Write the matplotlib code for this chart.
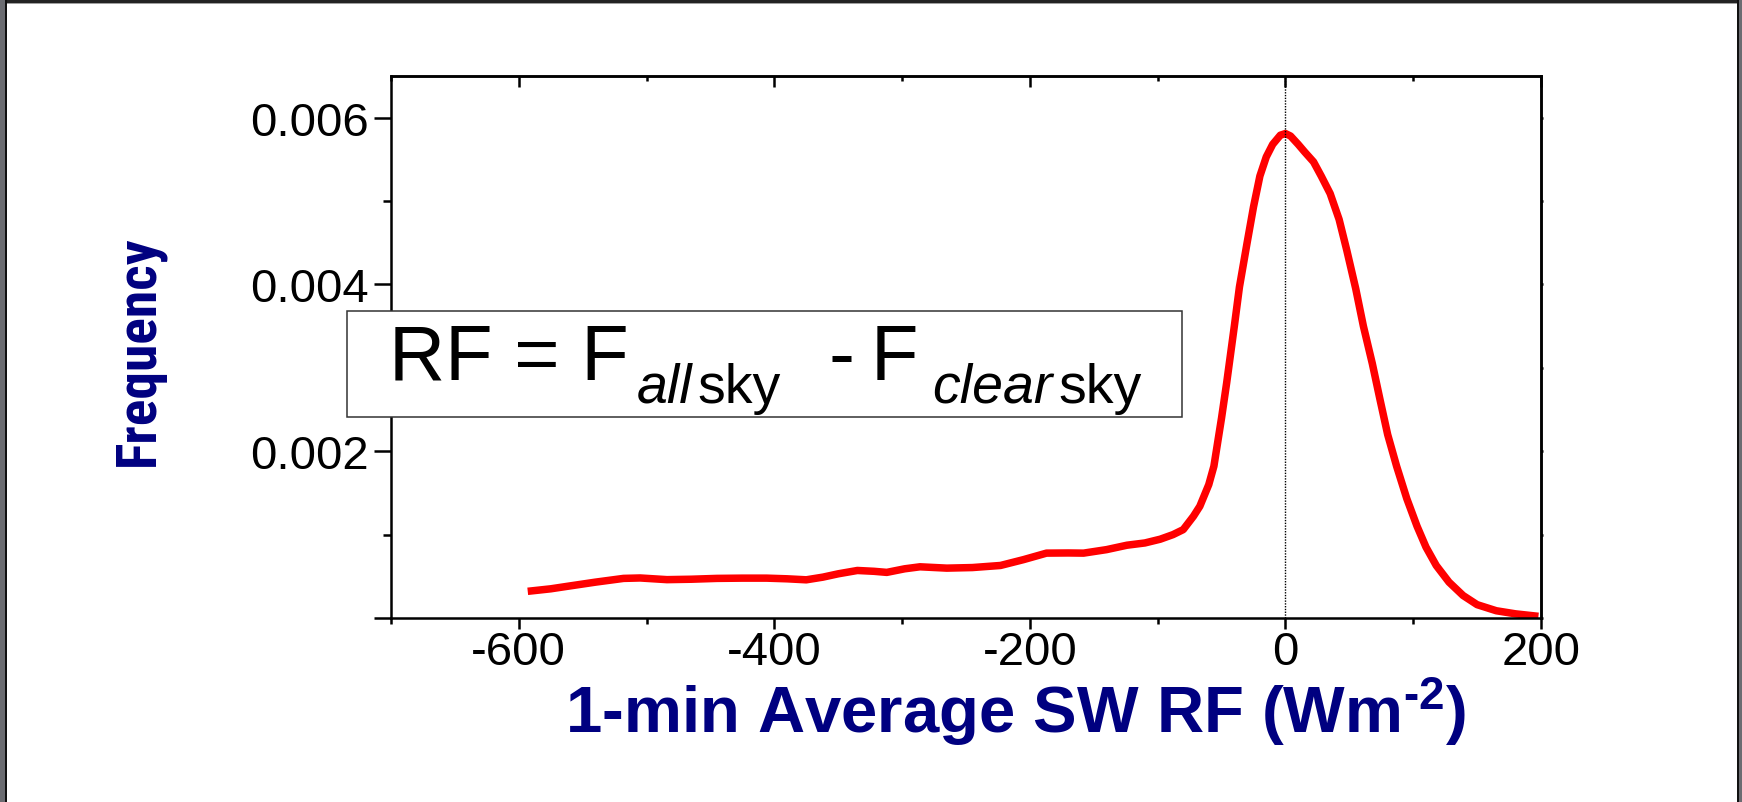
import numpy as np
import matplotlib
matplotlib.use("Agg")
import matplotlib.pyplot as plt
from matplotlib import font_manager
from matplotlib.patches import Rectangle
from matplotlib.transforms import IdentityTransform
from matplotlib.ticker import MultipleLocator

plt.rcParams['font.family'] = ['Liberation Sans', 'DejaVu Sans']
plt.rcParams['mathtext.fontset'] = 'custom'
plt.rcParams['mathtext.rm'] = 'Liberation Sans'
plt.rcParams['mathtext.it'] = 'Liberation Sans:italic'
plt.rcParams['mathtext.bf'] = 'Liberation Sans:bold'

# curve (SW RF in W m-2, frequency)
rf_x = [-593, -575, -562, -540, -518, -505, -484, -465, -445, -425, -406, -390,
        -375, -362, -350, -335, -322, -312, -298, -286, -265, -245, -223, -205,
        -187, -170, -158, -140, -124, -110, -98, -88, -80, -72, -67, -60, -56,
        -50, -46, -40, -36, -30, -25, -20, -15, -10, -4, 0, 4, 10, 15, 22, 28,
        35, 42, 48, 55, 61, 68, 74, 80, 87, 95, 103, 110, 118, 128, 139, 150,
        165, 180, 198]
freq = [0.00032, 0.00035, 0.00038, 0.00043, 0.000475, 0.00048, 0.00046, 0.000465,
        0.000475, 0.000478, 0.000478, 0.00047, 0.000458, 0.00049, 0.00053, 0.00057,
        0.00056, 0.000547, 0.00059, 0.000614, 0.000598, 0.000605, 0.00063, 0.0007,
        0.000778, 0.00078, 0.000778, 0.00082, 0.000873, 0.0009, 0.000945, 0.001,
        0.00106, 0.00122, 0.00134, 0.0016, 0.00182, 0.0024, 0.00282, 0.0035,
        0.00397, 0.0045, 0.00493, 0.0053, 0.00553, 0.00568, 0.00579, 0.00581,
        0.00578, 0.00568, 0.00559, 0.00547, 0.0053, 0.00509, 0.00478, 0.00441,
        0.00395, 0.0035, 0.00305, 0.00262, 0.0022, 0.00182, 0.00143, 0.0011,
        0.00085, 0.00063, 0.00043, 0.00027, 0.00016, 0.000087, 0.00005, 0.00002]

x_major = [-600, -400, -200, 0, 200]
x_labels = ['-600', '-400', '-200', '0', '200']
y_major = [0.0, 0.002, 0.004, 0.006]
y_labels = ['', '0.002', '0.004', '0.006']

W, H = 1742, 803
navy = '#000080'

names = {f.name for f in font_manager.fontManager.ttflist}
ylab_font = 'Liberation Sans'
for cand in ['Liberation Sans Narrow', 'Roboto Condensed', 'DejaVu Sans Condensed']:
    if cand in names:
        ylab_font = cand
        break

fig = plt.figure(figsize=(W / 100, H / 100), dpi=100)
fig.patch.set_facecolor('white')
ax = fig.add_axes([391 / W, 1 - 619 / H, 1150 / W, 542 / H])

ax.plot(rf_x, freq, color='#ff0000', lw=5.4, solid_capstyle='butt',
        solid_joinstyle='round', zorder=2)
ax.axvline(0, color='black', lw=1.0, linestyle=(0, (1, 1)), zorder=3)

ax.set_xlim(-700, 200)
ax.set_ylim(0, 0.0065)
ax.set_xticks(x_major)
ax.set_xticklabels(x_labels)
ax.set_yticks(y_major)
ax.set_yticklabels(y_labels)
ax.xaxis.set_minor_locator(MultipleLocator(100))
ax.yaxis.set_minor_locator(MultipleLocator(0.001))
ax.tick_params(which='both', direction='out', width=1.8, labelsize=34,
               top=False, right=False)
ax.tick_params(axis='y', which='major', length=12, pad=4)
ax.tick_params(axis='y', which='minor', length=6)
ax.tick_params(axis='x', which='major', length=8, pad=1)
ax.tick_params(axis='x', which='minor', length=4.3)
for sp in ax.spines.values():
    sp.set_linewidth(1.8)

# inward ticks on top, tiny outward ticks on the right
top = ax.secondary_xaxis('top')
top.set_xticks(x_major)
top.xaxis.set_minor_locator(MultipleLocator(100))
top.tick_params(which='major', direction='in', length=8, width=1.8, labeltop=False)
top.tick_params(which='minor', direction='in', length=3.6, width=1.8)
top.spines['top'].set_linewidth(1.8)
right = ax.secondary_yaxis('right')
right.set_yticks(y_major)
right.yaxis.set_minor_locator(MultipleLocator(0.001))
right.tick_params(which='both', direction='out', length=1.5, width=1.8, labelright=False)
right.spines['right'].set_linewidth(1.8)

ax.set_xlabel('1-min Average SW RF (Wm$^{\\mathbf{\u20102}}$)',
              fontsize=47, fontweight='bold', color=navy, va='baseline', ha='center')
ax.xaxis.set_label_coords((1015 - 391) / 1150, -(733 - 619) / 542)
ax.set_ylabel('Frequency', fontsize=40, fontweight='bold', color=navy,
              family=ylab_font, va='center', ha='center')
ax.yaxis.set_label_coords((139 - 391) / 1150, (619 - 351) / 542)

# equation box
ident = IdentityTransform()
fig.add_artist(Rectangle((347, H - 418), 1182 - 347, 418 - 312, transform=ident,
                         facecolor='white', edgecolor='#333333', lw=1.1, zorder=5))
pieces = [("RF = F", 'normal', 56, 380, 0),
          ("all", 'italic', 40, 403, 8),
          ("sky", 'normal', 40, 403, 5),
          ("-", 'normal', 56, 380, 48),
          ("F", 'normal', 56, 380, 16),
          ("clear", 'italic', 40, 403, 14),
          ("sky", 'normal', 40, 403, 6)]
renderer = fig.canvas.get_renderer()
xpos = 389
for txt, style, size, base, gap in pieces:
    xpos += gap
    t = fig.text(xpos, H - base, txt, transform=ident, fontsize=size, style=style,
                 ha='left', va='baseline', color='black', zorder=6)
    xpos = t.get_window_extent(renderer).x1

# screenshot frame
frame = [((0, H - 4), W, 4, '#232323'), ((0, H - 5), W, 1, '#a0a0a0'),
         ((0, 0), 5, H, '#6b6c71'), ((5, 0), 2, H, '#111111'),
         ((1737, 0), 2, H, '#111111'), ((1739, 0), 3, H, '#6b6c71')]
for xy, w, h, c in frame:
    fig.add_artist(Rectangle(xy, w, h, transform=ident, facecolor=c,
                             edgecolor='none', zorder=10))

fig.savefig('out.png', dpi=100)
